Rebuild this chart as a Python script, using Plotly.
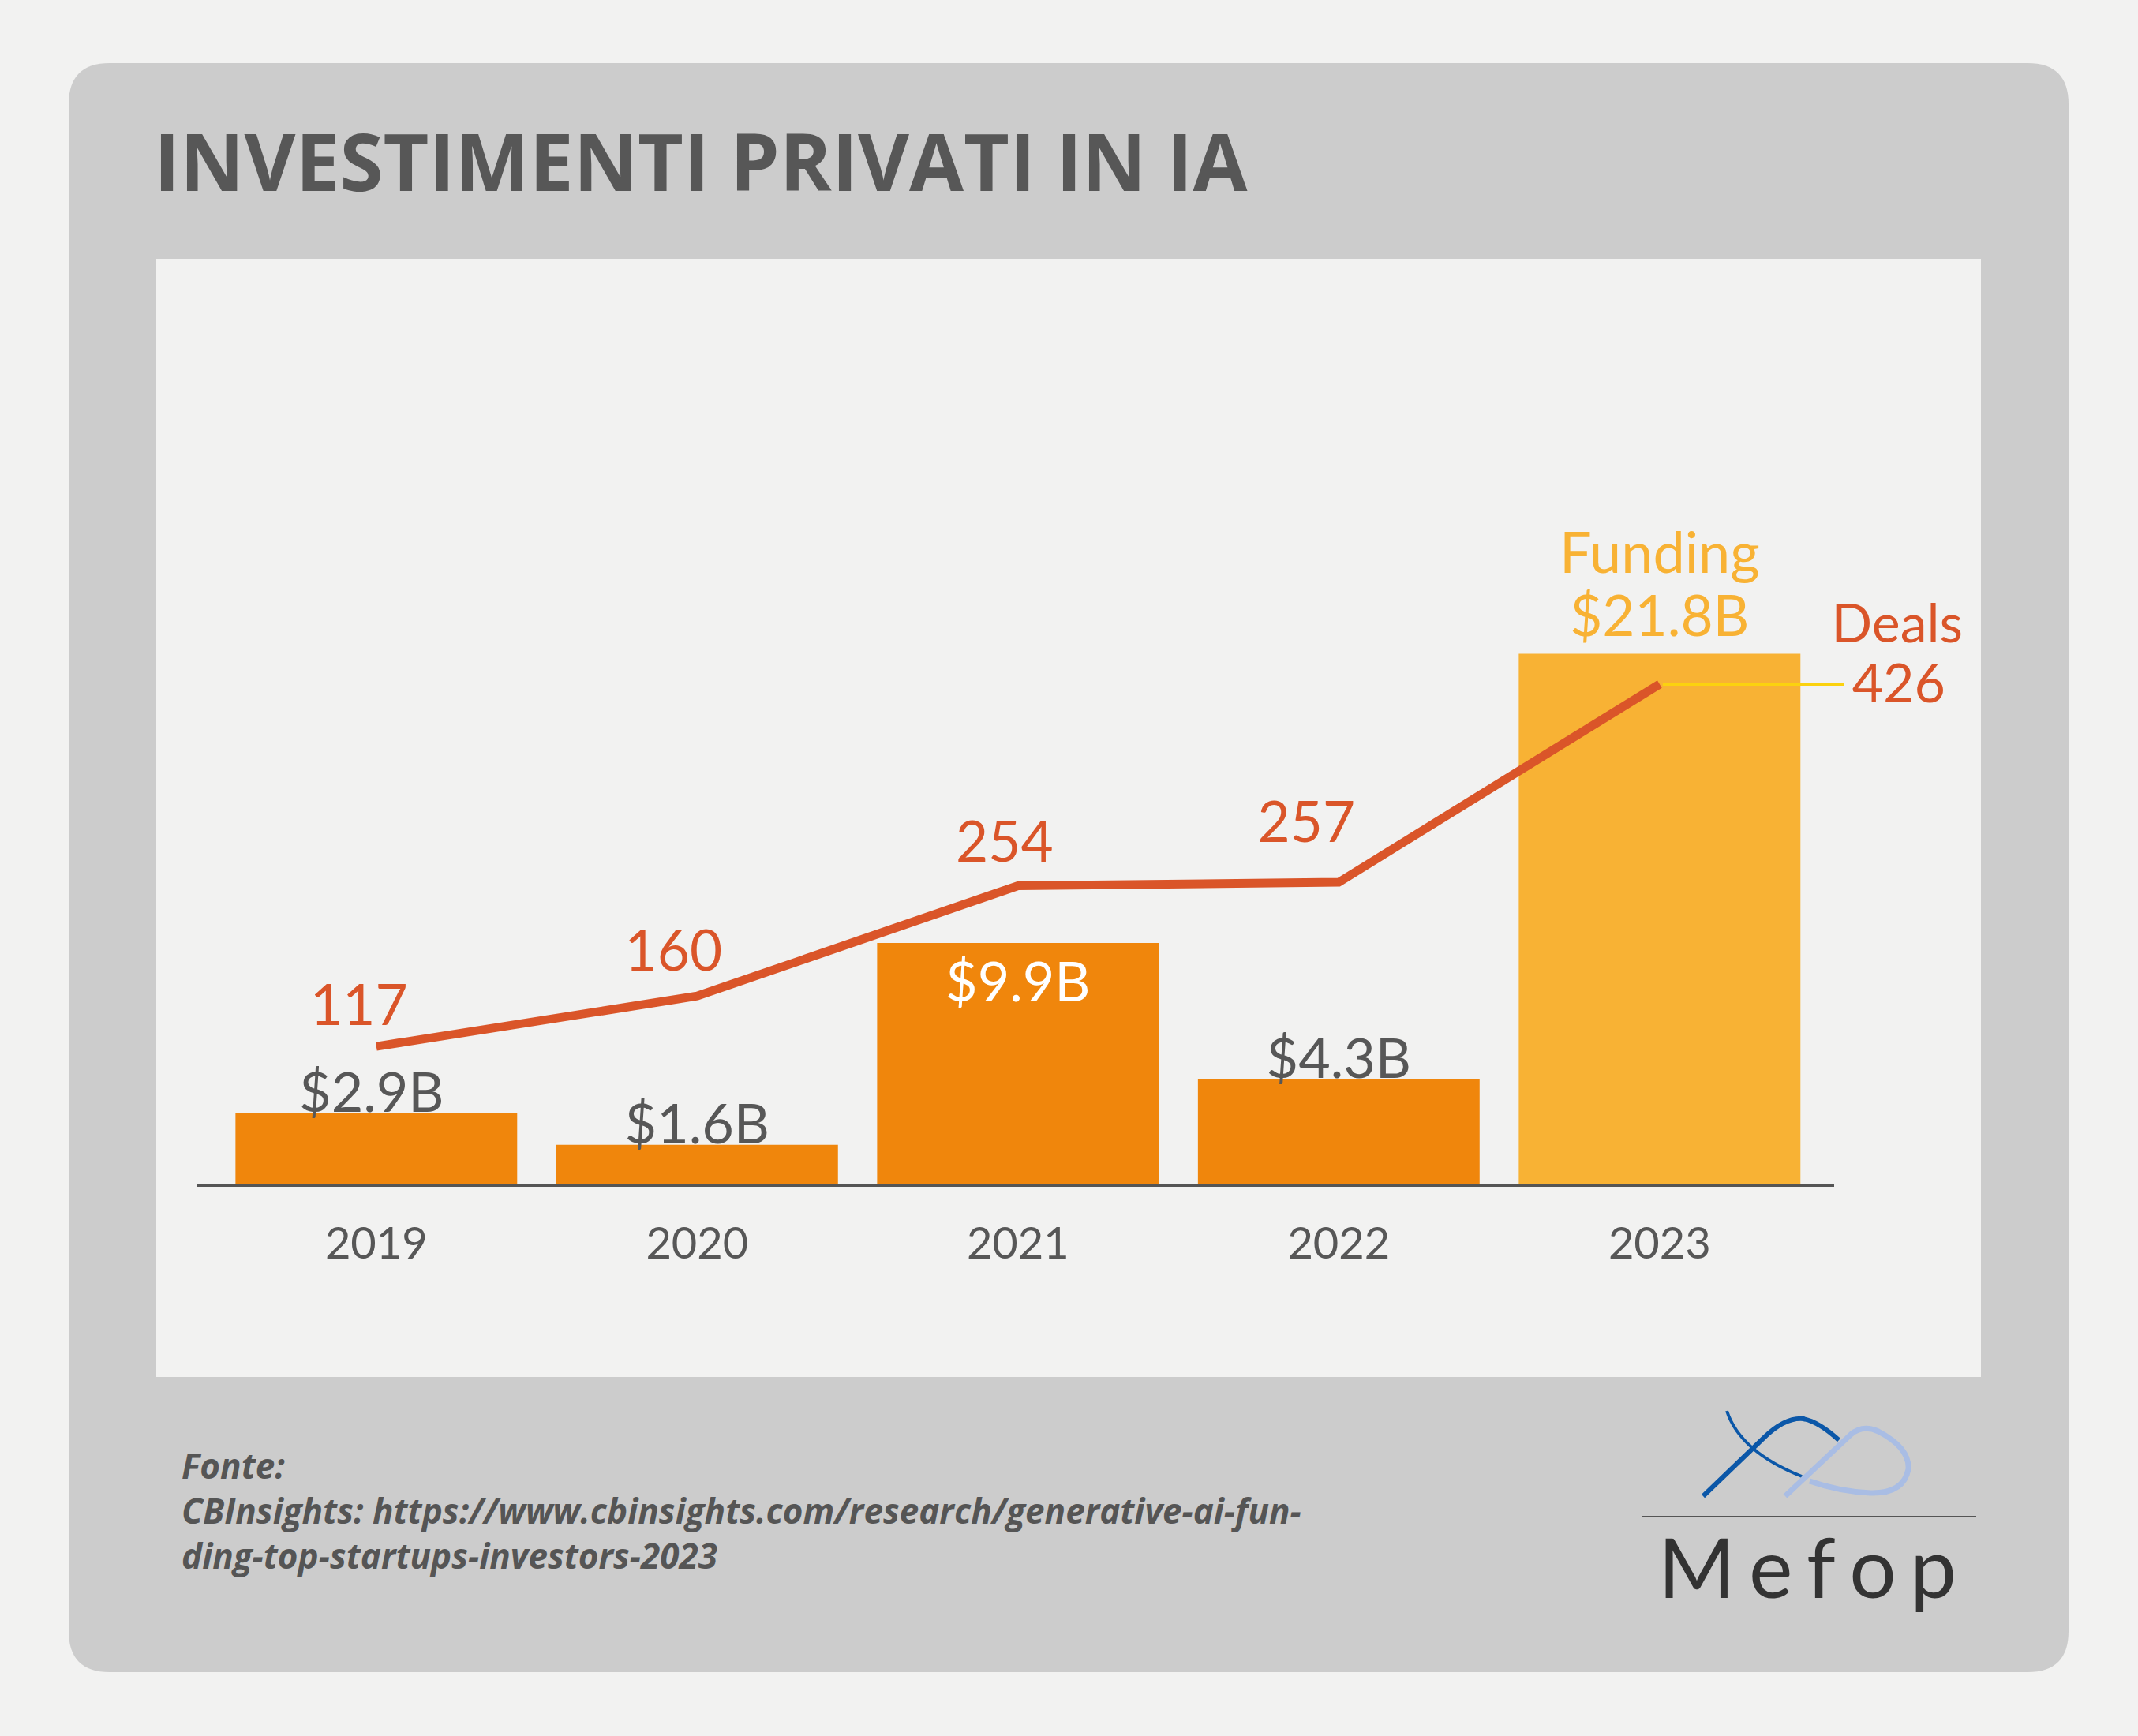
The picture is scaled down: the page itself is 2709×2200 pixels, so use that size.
import plotly.graph_objects as go

# ---------------- data ----------------
years = ["2019", "2020", "2021", "2022", "2023"]
funding_b = [2.9, 1.6, 9.9, 4.3, 21.8]
deals = [117, 160, 254, 257, 426]
funding_labels = ["$2.9B", "$1.6B", "$9.9B", "$4.3B", "$21.8B"]
deal_labels = ["117", "160", "254", "257", "426"]

title_text = "INVESTIMENTI PRIVATI IN IA"
source_lines = [
    "Fonte:",
    "CBInsights: https://www.cbinsights.com/research/generative-ai-fun-",
    "ding-top-startups-investors-2023",
]

# ---------------- layout geometry ----------------
W, H = 2709, 2200
L, R, T, B = 250, 109, 600, 700
PW = W - L - R
PH = H - T - B
PITCH = 406.5                     # px per category step
X_MIN = -0.558
X_MAX = X_MIN + PW / PITCH
AXIS_END_PX = 2324                # right end of the baseline
PX_PER_B = 30.8                   # px per $1B
PX_PER_DEAL = 1.486               # px per deal

xpos = list(range(len(years)))


def fx(px):
    return (px - L) / PW


def fy(py):
    return (H - B - py) / PH


def path_from(cmds):
    out = []
    for c in cmds:
        op, pts = c[0], c[1:]
        if op == "Z":
            out.append("Z")
            continue
        coords = " ".join(f"{fx(x):.5f},{fy(y):.5f}" for x, y in pts)
        out.append(f"{op} {coords}")
    return " ".join(out)


BG = "#f2f2f1"
FRAME = "#cccccc"
TXT = "#575757"
ORANGE = "#f0860c"
LIGHT = "#f8b234"
RED = "#da5529"
YEL = "#fbd20f"
LABEL_FONT = "Lato"

bar_colors = [ORANGE, ORANGE, ORANGE, ORANGE, LIGHT]
bar_label_colors = [TXT, TXT, "#ffffff", TXT]
bar_label_dx = [-6, 0, 0, 0]
bar_label_dy = [19, 19, -56, 19]
top_label_dy = [40, 121]             # "$21.8B", "Funding" above the last bar
deal_label_dx = [-22, -30, -17, -41, 303]
deal_label_dy = [45, 50, 48, 69, -6]
deals_word_dx, deals_word_dy = 301, 70
leader_px = (4, 234)

fig = go.Figure()
fig.add_trace(go.Bar(
    x=xpos, y=funding_b, marker=dict(color=bar_colors, line=dict(width=0)),
    hoverinfo="skip", showlegend=False,
))
# value labels for the bars
fig.add_trace(go.Scatter(
    x=[xpos[i] + bar_label_dx[i] / PITCH for i in range(4)],
    y=[funding_b[i] + bar_label_dy[i] / PX_PER_B for i in range(4)],
    text=funding_labels[:4], mode="text", textposition="middle center",
    textfont=dict(family=LABEL_FONT, size=70, color=bar_label_colors),
    cliponaxis=False, hoverinfo="skip", showlegend=False,
))
fig.add_trace(go.Scatter(
    x=[xpos[4], xpos[4]],
    y=[funding_b[4] + d / PX_PER_B for d in top_label_dy],
    text=[funding_labels[4], "Funding"], mode="text", textposition="middle center",
    textfont=dict(family=LABEL_FONT, size=[71, 72], color=LIGHT),
    cliponaxis=False, hoverinfo="skip", showlegend=False,
))
# yellow leader line from the last deals point to its label
fig.add_trace(go.Scatter(
    x=[xpos[4] + p / PITCH for p in leader_px], y=[deals[4], deals[4]],
    yaxis="y2", mode="lines", line=dict(color=YEL, width=4),
    hoverinfo="skip", showlegend=False,
))
# deals line
fig.add_trace(go.Scatter(
    x=xpos, y=deals, yaxis="y2", mode="lines",
    line=dict(color=RED, width=11), hoverinfo="skip", showlegend=False,
))
# deals labels
fig.add_trace(go.Scatter(
    x=[xpos[i] + deal_label_dx[i] / PITCH for i in range(5)] + [xpos[4] + deals_word_dx / PITCH],
    y=[deals[i] + deal_label_dy[i] / PX_PER_DEAL for i in range(5)] + [deals[4] + deals_word_dy / PX_PER_DEAL],
    text=deal_labels + ["Deals"], yaxis="y2", mode="text", textposition="middle center",
    textfont=dict(family=LABEL_FONT, size=[71, 71, 71, 71, 68, 68], color=RED),
    cliponaxis=False, hoverinfo="skip", showlegend=False,
))

shapes = []
# rounded grey frame
x0, x1, y0, y1, r = 87, 2621, 80, 2119, 52
shapes.append(dict(
    type="path", xref="paper", yref="paper", layer="below",
    fillcolor=FRAME, line=dict(width=0),
    path=path_from([
        ("M", (x0 + r, y0)), ("L", (x1 - r, y0)), ("Q", (x1, y0), (x1, y0 + r)),
        ("L", (x1, y1 - r)), ("Q", (x1, y1), (x1 - r, y1)),
        ("L", (x0 + r, y1)), ("Q", (x0, y1), (x0, y1 - r)),
        ("L", (x0, y0 + r)), ("Q", (x0, y0), (x0 + r, y0)), ("Z",),
    ]),
))
# inner light panel
shapes.append(dict(
    type="rect", xref="paper", yref="paper", layer="below",
    x0=fx(198), x1=fx(2510), y0=fy(1745), y1=fy(328),
    fillcolor=BG, line=dict(width=0),
))
# category baseline
shapes.append(dict(
    type="line", xref="paper", yref="paper", layer="above",
    x0=0, x1=fx(AXIS_END_PX), y0=fy(1502), y1=fy(1502),
    line=dict(color="#555555", width=4),
))
# logo divider
shapes.append(dict(
    type="line", xref="paper", yref="paper", layer="above",
    x0=fx(2080), x1=fx(2504), y0=fy(1922), y1=fy(1922),
    line=dict(color="#555555", width=2),
))
# logo curves
shapes.append(dict(
    type="path", xref="paper", yref="paper", layer="above",
    line=dict(color="#0b57a8", width=4),
    path=path_from([("M", (2188, 1788)), ("Q", (2205, 1840), (2283, 1871))]),
))
shapes.append(dict(
    type="path", xref="paper", yref="paper", layer="above",
    line=dict(color="#0b57a8", width=6),
    path=path_from([("M", (2158, 1896)), ("L", (2235, 1822)),
                    ("Q", (2262, 1796), (2285, 1798)),
                    ("Q", (2305, 1802), (2330, 1825))]),
))
shapes.append(dict(
    type="path", xref="paper", yref="paper", layer="above",
    line=dict(color="#a9bde4", width=7),
    path=path_from([("M", (2262, 1896)), ("L", (2345, 1818)),
                    ("Q", (2360, 1805), (2380, 1814)),
                    ("Q", (2420, 1835), (2418, 1862)),
                    ("Q", (2412, 1893), (2370, 1892)),
                    ("Q", (2330, 1890), (2293, 1877))]),
))

annotations = []
# title
annotations.append(dict(
    x=fx(193), y=fy(133), xref="paper", yref="paper", xanchor="left", yanchor="top",
    text=title_text, showarrow=False,
    font=dict(family="Open Sans", size=100, color=TXT, weight=700),
))
# source
annotations.append(dict(
    x=fx(228), y=fy(1825), xref="paper", yref="paper", xanchor="left", yanchor="top",
    align="left", text="<br>".join(source_lines), showarrow=False,
    font=dict(family="Open Sans", size=44, color="#555555",
              weight=700, style="italic"),
))
# logo word
logo_gap = "\u2006"
annotations.append(dict(
    x=fx(2290), y=fy(1919), xref="paper", yref="paper", xanchor="center", yanchor="top",
    text=logo_gap.join("Mefop"), showarrow=False,
    font=dict(family="Lato", size=105, color="#333333", weight=400),
))

hidden_axis = dict(showticklabels=False, showgrid=False, zeroline=False,
                   showline=False, ticks="", fixedrange=True)

fig.update_layout(
    width=W, height=H,
    margin=dict(l=L, r=R, t=T, b=B, pad=0),
    paper_bgcolor=BG, plot_bgcolor="rgba(0,0,0,0)",
    bargap=0.122, showlegend=False,
    shapes=shapes, annotations=annotations,
    xaxis=dict(
        range=[X_MIN, X_MAX], tickmode="array", tickvals=xpos, ticktext=years,
        showline=False, ticks="", showgrid=False, zeroline=False,
        tickfont=dict(family=LABEL_FONT, size=56, color=TXT), ticklabelstandoff=38,
        fixedrange=True,
    ),
    yaxis=dict(range=[0, PH / PX_PER_B], **hidden_axis),
    yaxis2=dict(range=[0, PH / PX_PER_DEAL], overlaying="y", side="right",
                **hidden_axis),
)

fig.write_html(
    "out.html",
    config={"displayModeBar": False},
    post_script="document.body.style.margin='0';document.body.style.background='#f2f2f1';",
)
